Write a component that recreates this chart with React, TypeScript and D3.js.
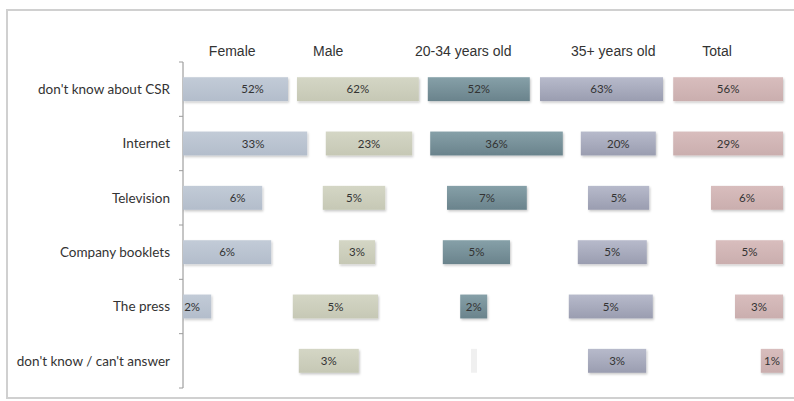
import React from "react";
import * as d3 from "d3";

// ---------- data ----------
const categories = [
  "don't know about CSR",
  "Internet",
  "Television",
  "Company booklets",
  "The press",
  "don't know / can't answer",
];
const seriesNames = ["Female", "Male", "20-34 years old", "35+ years old", "Total"];

// printed percentages
const femalePct = [52, 33, 6, 6, 2, 0];
const malePct = [62, 23, 5, 3, 5, 3];
const age2034Pct = [52, 36, 7, 5, 2, 0];
const age35Pct = [63, 20, 5, 5, 5, 3];
const totalPct = [56, 29, 6, 5, 3, 1];

// 100%-stacked segment lengths (visible bars + invisible spacer series)
const femaleLen = [17.5, 20.7, 13.2, 14.7, 4.7, 0];
const spacer1 = [1.5, 3.1, 10.1, 11.3, 13.6, 19.3];
const maleLen = [20.3, 14.4, 10.4, 6, 14.2, 10];
const spacer2 = [1.5, 3, 10.3, 11.3, 13.7, 18.7];
const age2034Len = [17, 22.1, 13.3, 11.2, 4.5, 1];
const spacer3 = [1.7, 3, 10.2, 11.3, 13.6, 18.5];
const age35Len = [20.5, 12.5, 10.2, 11.5, 14, 9.7];
const spacer4 = [1.7, 2.9, 10.3, 11.5, 13.7, 19.1];
const totalLen = [18.3, 18.3, 12, 11.2, 8, 3.7];

// ---------- layout / style ----------
const W = 794;
const H = 401;
const PLOT_LEFT = 183;
const PLOT_RIGHT = 783;
const PLOT_TOP = 62;
const PLOT_BOTTOM = 388;
const HEADER_AT = [8.2, 24.2, 46.7, 71.7, 89]; // header centers in stack units
const LABEL_NUDGE: Record<string, number> = { "0-0": 17, "1-0": 8, "2-0": 15, "4-0": -5 };

const keys = ["f", "s1", "m", "s2", "a", "s3", "b", "s4", "t"];
const visibleKeys = ["f", "m", "a", "b", "t"];
const pctByKey: Record<string, number[]> = {
  f: femalePct,
  m: malePct,
  a: age2034Pct,
  b: age35Pct,
  t: totalPct,
};
const gradients: Record<string, [string, string]> = {
  f: ["#c2cbd7", "#b3bdcb"],
  m: ["#d4d6c5", "#c6c8b5"],
  a: ["#86a0a8", "#6a838c"],
  b: ["#b7bacb", "#9a9db0"],
  t: ["#d8bdbd", "#caaeae"],
};

export default function App() {
  const rows = categories.map((c, i) => ({
    cat: c,
    f: femaleLen[i],
    s1: spacer1[i],
    m: maleLen[i],
    s2: spacer2[i],
    a: age2034Len[i],
    s3: spacer3[i],
    b: age35Len[i],
    s4: spacer4[i],
    t: totalLen[i],
  }));
  const stacked = d3.stack<any>().keys(keys)(rows);

  const x = d3.scaleLinear().domain([0, 100]).range([PLOT_LEFT, PLOT_RIGHT]);
  const y = d3
    .scaleBand<string>()
    .domain(categories)
    .range([PLOT_TOP, PLOT_BOTTOM])
    .paddingInner(0.56)
    .paddingOuter(0.28);
  const step = y.step();
  const tickYs = d3.range(categories.length + 1).map((i) => PLOT_TOP + i * step);

  return (
    <>
      <style>{`body{margin:0;background:#fff}`}</style>
      <svg width={W} height={H} style={{ display: "block" }}>
        <defs>
          {visibleKeys.map((k) => (
            <linearGradient key={k} id={`g-${k}`} x1="0" y1="0" x2="0" y2="1">
              <stop offset="0%" stopColor={gradients[k][0]} />
              <stop offset="100%" stopColor={gradients[k][1]} />
            </linearGradient>
          ))}
          <filter id="shadow" x="-10%" y="-30%" width="130%" height="180%">
            <feDropShadow dx="1" dy="1.5" stdDeviation="1" floodColor="#000" floodOpacity="0.22" />
          </filter>
        </defs>
        <rect x={7} y={10} width={790} height={388} fill="#fff" stroke="#d0d0d0" strokeWidth={2} />

        {/* headers */}
        {seriesNames.map((s, i) => (
          <text
            key={s}
            x={x(HEADER_AT[i])}
            y={56}
            textAnchor="middle"
            fontFamily="'Liberation Sans', Arial, sans-serif"
            fontSize={14}
            fill="#333"
          >
            {s}
          </text>
        ))}

        {/* axis */}
        <line x1={PLOT_LEFT} x2={PLOT_LEFT} y1={PLOT_TOP} y2={PLOT_BOTTOM} stroke="#8c8c8c" strokeWidth={1} />
        {tickYs.map((ty, i) => (
          <line key={i} x1={PLOT_LEFT - 4} x2={PLOT_LEFT} y1={ty} y2={ty} stroke="#9c9c9c" strokeWidth={1} />
        ))}

        {/* category labels */}
        {categories.map((c) => (
          <text
            key={c}
            x={170}
            y={(y(c) as number) + y.bandwidth() / 2}
            dy="0.35em"
            textAnchor="end"
            fontFamily="Lato, 'Open Sans', sans-serif"
            fontSize={13.5}
            fill="#333"
          >
            {c}
          </text>
        ))}

        {/* bars */}
        {stacked
          .filter((s) => visibleKeys.includes(s.key))
          .map((s) => {
            const si = visibleKeys.indexOf(s.key);
            return (
              <g key={s.key}>
                {s.map((d, i) => {
                  const x0 = x(d[0]);
                  const x1 = x(d[1]);
                  const w = x1 - x0;
                  if (w <= 0) return null;
                  const pct = pctByKey[s.key][i];
                  const yy = y(categories[i]) as number;
                  const faint = pct === 0;
                  const nudge = LABEL_NUDGE[`${i}-${si}`] || 0;
                  return (
                    <g key={i}>
                      <rect
                        x={x0}
                        y={yy}
                        width={w}
                        height={y.bandwidth()}
                        fill={faint ? "#ececec" : `url(#g-${s.key})`}
                        opacity={faint ? 0.8 : 1}
                        filter={faint ? undefined : "url(#shadow)"}
                      />
                      {!faint && (
                        <text
                          x={(x0 + x1) / 2 + nudge}
                          y={yy + y.bandwidth() / 2}
                          dy="0.35em"
                          textAnchor="middle"
                          fontFamily="Lato, 'Open Sans', sans-serif"
                          fontSize={11.5}
                          fill="#333"
                        >
                          {pct}%
                        </text>
                      )}
                    </g>
                  );
                })}
              </g>
            );
          })}
      </svg>
    </>
  );
}
